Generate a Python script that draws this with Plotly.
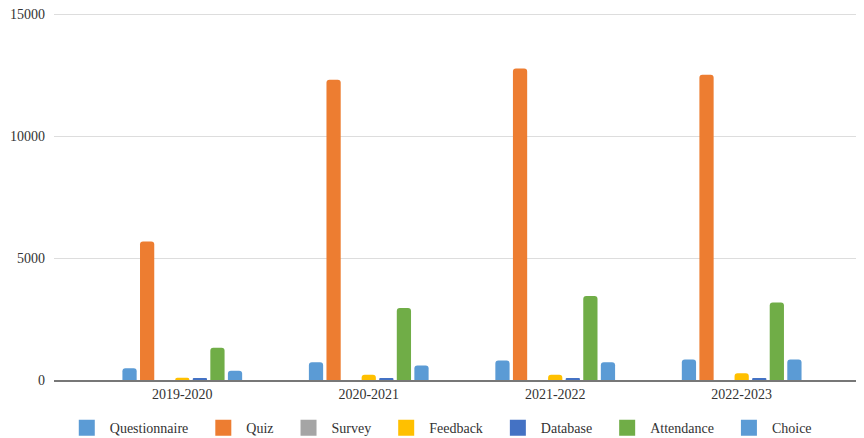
import plotly.graph_objects as go

years = ["2019-2020", "2020-2021", "2021-2022", "2022-2023"]
series_names = ["Questionnaire", "Quiz", "Survey", "Feedback", "Database", "Attendance", "Choice"]
questionnaire = [480, 733, 802, 844]
quiz = [5682, 12325, 12778, 12530]
survey = [0, 0, 0, 0]
feedback = [95, 214, 214, 280]
database = [74, 74, 74, 74]
attendance = [1327, 2955, 3448, 3177]
choice = [382, 597, 733, 844]
y_ticks = [0, 5000, 10000, 15000]
y_tick_labels = ["0", "5000", "10000", "15000"]

values = [questionnaire, quiz, survey, feedback, database, attendance, choice]
colors = ["#5B9BD5", "#ED7D31", "#A5A5A5", "#FFC000", "#4472C4", "#70AD47", "#5B9BD5"]

fig = go.Figure()
for name, vals, col in zip(series_names, values, colors):
    fig.add_trace(go.Bar(x=years, y=vals, name=name, legendgroup=name, showlegend=False,
                         marker=dict(color=col, line=dict(width=0))))
# legend entries with larger square swatches (non-breaking spaces add room between entries)
for i, (name, col) in enumerate(zip(series_names, colors)):
    label = name if i == len(series_names) - 1 else name + "\u00a0\u00a0"
    fig.add_trace(go.Scatter(x=[None], y=[None], mode="markers", name=label, legendgroup=name,
                             marker=dict(symbol="square", size=18, color=col), showlegend=True))

# the page body has an 8px margin, so the figure is 8px smaller and margins are shifted
fig.update_layout(
    width=856, height=430,
    margin=dict(l=46, r=0, t=4, b=58, autoexpand=False),
    paper_bgcolor="white", plot_bgcolor="white",
    font=dict(family="Liberation Serif", size=14, color="#333333"),
    barmode="group", bargap=0.34, bargroupgap=0.19,
    barcornerradius=3,
    showlegend=True,
    legend=dict(orientation="h", x=0.505, xanchor="center", xref="container",
                y=0.023, yanchor="middle", yref="container", itemwidth=36,
                font=dict(size=14, color="#333333"), traceorder="normal"),
    xaxis=dict(range=[-0.688, 3.656], showgrid=False, showline=True, linecolor="#777777",
               linewidth=1.5, ticks="", tickfont=dict(size=14), automargin=False),
    yaxis=dict(range=[0, 15100], tickvals=y_ticks, ticktext=y_tick_labels,
               showgrid=True, gridcolor="#DDDDDD",
               gridwidth=1, zeroline=False, showline=False, ticks="",
               tickfont=dict(size=14), ticklabelstandoff=8, automargin=False,
               ticklabeloverflow="allow"),
)

fig.write_html("out.html")
